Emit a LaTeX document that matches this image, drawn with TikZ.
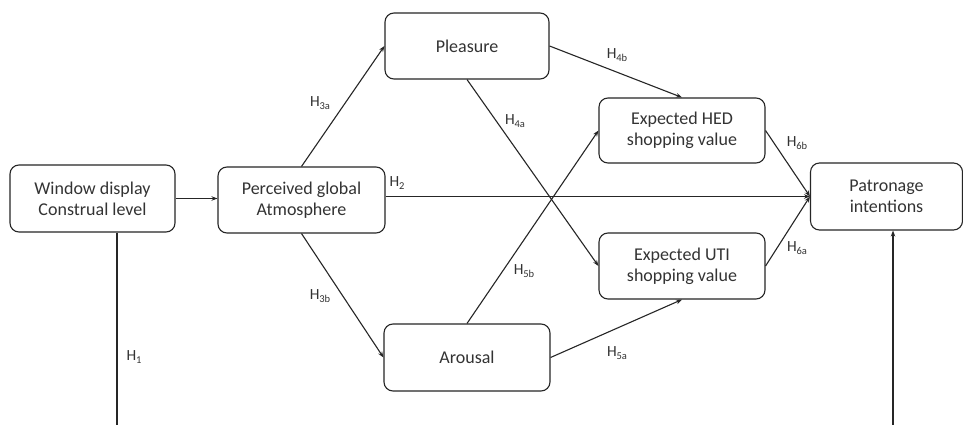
\documentclass[tikz,border=0pt]{standalone}
\usepackage{fontspec}
\setmainfont{Carlito}
\usetikzlibrary{arrows.meta}
\definecolor{linec}{HTML}{262626}
\definecolor{textc}{HTML}{333333}
\newcommand{\hsub}[1]{H\raisebox{-2.2pt}{\fontsize{10.5}{11}\selectfont #1}}
\begin{document}
\begin{tikzpicture}[x=1pt,y=-1pt,
 box/.style={draw=linec, line width=1.1pt, rounded corners=9pt, align=center, inner sep=0pt, font=\fontsize{18}{21}\selectfont, text=textc},
 conn/.style={draw=linec, line width=1.1pt, -{Stealth[length=6pt,width=4.5pt]}},
 plainline/.style={draw=linec, line width=1.1pt},
 hlab/.style={font=\fontsize{15.5}{17}\selectfont, text=textc, inner sep=0pt}]
\useasboundingbox[fill=white] (0,0) rectangle (963,425);
\node[box, minimum width=165pt, minimum height=67pt] (win) at (92.5,198.5) {Window display\\Construal level};
\node[box, minimum width=167pt, minimum height=66pt] (per) at (301.5,200) {Perceived global\\Atmosphere};
\node[box, minimum width=164pt, minimum height=66pt] (ple) at (467,46) {Pleasure};
\node[box, minimum width=166pt, minimum height=67pt] (aro) at (467,357.5) {Arousal};
\node[box, minimum width=166pt, minimum height=65pt] (hed) at (682,130.5) {Expected HED\\shopping value};
\node[box, minimum width=166pt, minimum height=66pt] (uti) at (682,266) {Expected UTI\\shopping value};
\node[box, minimum width=152pt, minimum height=67pt] (pat) at (886.5,196.5) {Patronage\\intentions};
\coordinate (h1end) at (117,425);
\coordinate (patin) at (893,425);
% connectors
\draw[conn] (win.east) -- (win.east -| per.west);
\draw[conn] (per.east |- pat.west) -- (pat.west);
\draw[conn] (per.north) -- (ple.west);
\draw[conn] (per.south) -- (aro.west);
\draw[conn] (ple.south) -- (uti.west);
\draw[conn] (ple.east) -- (hed.north);
\draw[conn] (aro.north) -- (hed.west);
\draw[conn] (aro.east) -- (uti.south);
\draw[conn] (hed.east) -- (pat.west);
\draw[conn] (uti.east) -- (pat.west);
\draw[plainline] (h1end |- win.south) -- (h1end);
\draw[conn] (patin) -- (patin |- pat.south);
% labels
\node[hlab] (l1) at (134,357) {\hsub{1}};
\node[hlab] (l2) at (397,183) {\hsub{2}};
\node[hlab] (l3a) at (320,103) {\hsub{3a}};
\node[hlab] (l3b) at (320,296) {\hsub{3b}};
\node[hlab] (l4a) at (515,121) {\hsub{4a}};
\node[hlab] (l4b) at (617,55) {\hsub{4b}};
\node[hlab] (l5a) at (617,353) {\hsub{5a}};
\node[hlab] (l5b) at (524,271) {\hsub{5b}};
\node[hlab] (l6a) at (797,248) {\hsub{6a}};
\node[hlab] (l6b) at (797,143) {\hsub{6b}};
\end{tikzpicture}
\end{document}
